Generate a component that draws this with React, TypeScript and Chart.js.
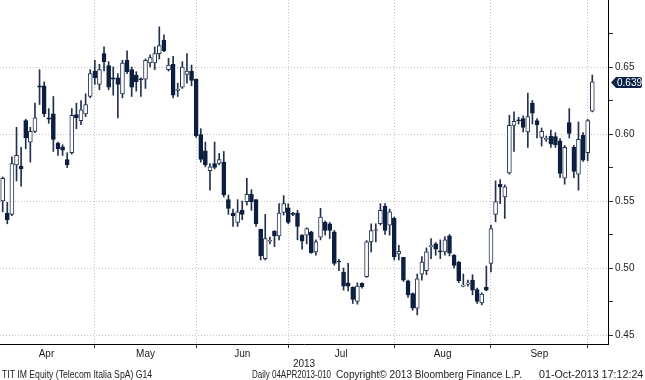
import React, { useEffect, useLayoutEffect, useRef } from 'react';
import { Chart, registerables } from 'chart.js';

Chart.register(...registerables);

// Trading-day index (0 = first plotted session, early April 2013)
const dayIndex: number[] = Array.from({ length: 129 }, (_, i) => i);

const openPrices: number[] = [
  0.550, 0.541, 0.540, 0.577, 0.576, 0.610, 0.594, 0.602, 0.636, 0.636,
  0.612, 0.615, 0.593, 0.5905, 0.581, 0.586, 0.6145, 0.610, 0.615, 0.628,
  0.647, 0.637, 0.660, 0.651, 0.642, 0.642, 0.630, 0.655, 0.648, 0.644,
  0.641, 0.641, 0.653, 0.653, 0.660, 0.670, 0.648, 0.652, 0.6325, 0.635,
  0.6445, 0.647, 0.641, 0.5995, 0.5875, 0.5726, 0.578, 0.578, 0.579, 0.551,
  0.541, 0.534, 0.543, 0.5495, 0.555, 0.551, 0.529, 0.507, 0.520, 0.5276,
  0.524, 0.5415, 0.545, 0.5405, 0.541, 0.5245, 0.5245, 0.527, 0.512, 0.523,
  0.534, 0.533, 0.527, 0.505, 0.497, 0.489, 0.4855, 0.475, 0.4885, 0.4935,
  0.5195, 0.528, 0.533, 0.546, 0.532, 0.537, 0.5105, 0.508, 0.4905, 0.481,
  0.470, 0.4955, 0.498, 0.516, 0.518, 0.5125, 0.512, 0.524, 0.5095, 0.5045,
  0.4865, 0.488, 0.491, 0.484, 0.474, 0.4855, 0.5035, 0.540, 0.5625, 0.553,
  0.571, 0.6065, 0.610, 0.6115, 0.6015, 0.623, 0.610, 0.5975, 0.596, 0.5985,
  0.598, 0.595, 0.567, 0.6085, 0.590, 0.570, 0.599, 0.586, 0.617,
];

const highPrices: number[] = [
  0.568, 0.549, 0.583, 0.605, 0.590, 0.611, 0.605, 0.623, 0.648, 0.639,
  0.619, 0.628, 0.594, 0.592, 0.586, 0.619, 0.623, 0.625, 0.630, 0.648,
  0.655, 0.652, 0.665, 0.654, 0.650, 0.645, 0.655, 0.662, 0.650, 0.6465,
  0.642, 0.656, 0.659, 0.665, 0.680, 0.674, 0.6565, 0.658, 0.638, 0.654,
  0.660, 0.6515, 0.641, 0.604, 0.594, 0.578, 0.594, 0.5855, 0.587, 0.5545,
  0.544, 0.551, 0.550, 0.567, 0.5585, 0.551, 0.529, 0.540, 0.523, 0.528,
  0.548, 0.554, 0.548, 0.5415, 0.543, 0.525, 0.530, 0.5275, 0.521, 0.5445,
  0.535, 0.534, 0.528, 0.5065, 0.500, 0.5035, 0.486, 0.489, 0.489, 0.5205,
  0.533, 0.533, 0.548, 0.548, 0.544, 0.538, 0.517, 0.508, 0.491, 0.4815,
  0.4955, 0.5085, 0.515, 0.522, 0.519, 0.521, 0.5235, 0.525, 0.510, 0.505,
  0.4955, 0.491, 0.495, 0.485, 0.4815, 0.5015, 0.532, 0.565, 0.566, 0.562,
  0.614, 0.6165, 0.6125, 0.6135, 0.6305, 0.625, 0.6115, 0.6045, 0.5985, 0.603,
  0.601, 0.5965, 0.5915, 0.619, 0.5915, 0.609, 0.601, 0.611, 0.644,
];

const lowPrices: number[] = [
  0.542, 0.533, 0.539, 0.565, 0.561, 0.589, 0.579, 0.601, 0.622, 0.613,
  0.608, 0.587, 0.584, 0.584, 0.575, 0.585, 0.604, 0.607, 0.613, 0.627,
  0.637, 0.633, 0.647, 0.633, 0.629, 0.612, 0.627, 0.645, 0.628, 0.632,
  0.628, 0.634, 0.650, 0.648, 0.656, 0.6615, 0.647, 0.627, 0.628, 0.634,
  0.638, 0.636, 0.5975, 0.579, 0.5755, 0.558, 0.574, 0.577, 0.553, 0.540,
  0.531, 0.531, 0.536, 0.547, 0.543, 0.531, 0.506, 0.506, 0.518, 0.516,
  0.521, 0.5395, 0.533, 0.539, 0.521, 0.514, 0.518, 0.511, 0.5095, 0.521,
  0.5245, 0.522, 0.502, 0.498, 0.4835, 0.483, 0.4735, 0.473, 0.485, 0.493,
  0.512, 0.5195, 0.532, 0.525, 0.5245, 0.506, 0.506, 0.490, 0.478, 0.4685,
  0.465, 0.491, 0.495, 0.507, 0.5095, 0.507, 0.5095, 0.509, 0.500, 0.489,
  0.486, 0.4865, 0.480, 0.4735, 0.4725, 0.483, 0.497, 0.5345, 0.548, 0.537,
  0.570, 0.587, 0.6075, 0.6015, 0.590, 0.6075, 0.597, 0.591, 0.5945, 0.590,
  0.590, 0.5675, 0.5625, 0.597, 0.5675, 0.558, 0.5795, 0.580, 0.6165,
];

const closePrices: number[] = [
  0.567, 0.536, 0.578, 0.584, 0.574, 0.597, 0.602, 0.612, 0.635, 0.615,
  0.611, 0.596, 0.589, 0.588, 0.577, 0.614, 0.612, 0.618, 0.622, 0.645,
  0.642, 0.648, 0.654, 0.635, 0.641, 0.637, 0.653, 0.6465, 0.635, 0.639,
  0.6405, 0.655, 0.657, 0.660, 0.666, 0.662, 0.6515, 0.629, 0.6335, 0.650,
  0.647, 0.640, 0.5985, 0.581, 0.577, 0.5756, 0.575, 0.581, 0.5545, 0.5445,
  0.539, 0.542, 0.540, 0.555, 0.5495, 0.533, 0.509, 0.522, 0.5205, 0.524,
  0.541, 0.548, 0.534, 0.540, 0.531, 0.520, 0.5295, 0.5115, 0.5195, 0.538,
  0.528, 0.528, 0.5035, 0.5045, 0.4865, 0.4865, 0.4765, 0.4865, 0.486, 0.5195,
  0.528, 0.5285, 0.543, 0.528, 0.542, 0.5085, 0.5125, 0.491, 0.480, 0.470,
  0.492, 0.5045, 0.512, 0.5165, 0.514, 0.512, 0.521, 0.511, 0.502, 0.4905,
  0.487, 0.4882, 0.4835, 0.475, 0.4805, 0.4835, 0.5295, 0.5495, 0.5605, 0.5605,
  0.6065, 0.6095, 0.6098, 0.605, 0.613, 0.6155, 0.607, 0.602, 0.5962, 0.5925,
  0.592, 0.5705, 0.590, 0.6005, 0.572, 0.596, 0.5805, 0.610, 0.639,
];

const monthLabels: string[] = ['Apr', 'May', 'Jun', 'Jul', 'Aug', 'Sep'];
// index of first trading day of Apr, May, Jun, Jul, Aug, Sep, Oct
const monthFirstDay: number[] = [-1, 20, 42, 62, 85, 106, 127];
const yearLabel = '2013';
const yTickValues: number[] = [0.45, 0.475, 0.5, 0.525, 0.55, 0.575, 0.6, 0.625, 0.65, 0.675];
const lastPrice = 0.639;

const footerItems = [
  { text: 'TIT IM Equity (Telecom Italia SpA) G14', left: 2, width: 150 },
  { text: 'Daily 04APR2013-010', left: 252, width: 79 },
  { text: 'Copyright\u00A9 2013 Bloomberg Finance L.P.', left: 336, width: 186 },
  { text: '01-Oct-2013 17:12:24', left: 539, width: 104 },
];

const NAVY = '#0c1f40';
const WICK = '#22324e';
const GRID = '#c4c4c4';
const FONT = '"Liberation Sans", Arial, sans-serif';

const isMajorY = (v: number) => Math.abs(v * 20 - Math.round(v * 20)) < 1e-6;

export default function App() {
  const canvasRef = useRef<HTMLCanvasElement | null>(null);
  const footerRefs = useRef<(HTMLSpanElement | null)[]>([]);

  useLayoutEffect(() => {
    document.body.style.margin = '0';
    footerRefs.current.forEach((el, i) => {
      if (!el) return;
      const w = el.offsetWidth;
      if (w > 0) el.style.transform = `scaleX(${footerItems[i].width / w})`;
    });
  }, []);

  useEffect(() => {
    const canvas = canvasRef.current;
    if (!canvas) return;

    const monthMid = monthLabels.map((_, i) => (monthFirstDay[i] + monthFirstDay[i + 1]) / 2);
    const boundaries = monthFirstDay.slice(1, 7);
    const isBoundary = (v: number) => boundaries.some((b) => Math.abs(b - v) < 1e-6);
    const xTicks = [...boundaries, ...monthMid].sort((a, b) => a - b);

    const up = dayIndex.map((i) => closePrices[i] >= openPrices[i]);

    const priceTag = {
      id: 'priceTag',
      afterDraw(chart: any) {
        const { ctx, chartArea, scales } = chart;
        const y = Math.round(scales.y.getPixelForValue(lastPrice)) + 0.5;
        const x0 = chartArea.right + 3;
        const x1 = 642;
        const h = 5.5;
        ctx.save();
        ctx.fillStyle = '#0e2246';
        ctx.beginPath();
        ctx.moveTo(x0, y);
        ctx.lineTo(x0 + 5, y - h);
        ctx.lineTo(x1 - 2, y - h);
        ctx.quadraticCurveTo(x1, y - h, x1, y - h + 2);
        ctx.lineTo(x1, y + h - 2);
        ctx.quadraticCurveTo(x1, y + h, x1 - 2, y + h);
        ctx.lineTo(x0 + 5, y + h);
        ctx.closePath();
        ctx.fill();
        ctx.fillStyle = '#ffffff';
        ctx.font = `10px ${FONT}`;
        ctx.textBaseline = 'middle';
        ctx.textAlign = 'left';
        ctx.fillText(lastPrice.toFixed(3), x0 + 6, y + 0.5);
        ctx.restore();
      },
    };

    const chart = new Chart(canvas, {
      type: 'bar',
      data: {
        datasets: [
          {
            label: 'body',
            data: dayIndex.map((i) => ({ x: i, y: [openPrices[i], closePrices[i]] })) as any,
            backgroundColor: dayIndex.map((i) => (up[i] ? '#ffffff' : NAVY)),
            borderColor: dayIndex.map((i) => (up[i] ? '#24344f' : NAVY)),
            borderWidth: 1,
            borderSkipped: false,
            barThickness: 4,
            minBarLength: 1,
            grouped: false,
            order: 0,
          } as any,
          {
            label: 'wick',
            data: dayIndex.map((i) => ({ x: i, y: [lowPrices[i], highPrices[i]] })) as any,
            backgroundColor: WICK,
            borderWidth: 0,
            barThickness: 1,
            grouped: false,
            order: 1,
          } as any,
        ],
      },
      options: {
        animation: false,
        responsive: false,
        devicePixelRatio: 1,
        layout: { padding: { left: 0, right: 0, top: 0, bottom: 9 } },
        plugins: {
          legend: { display: false },
          tooltip: { enabled: false },
        },
        scales: {
          x: {
            type: 'linear',
            position: 'bottom',
            min: -0.586,
            max: 131.41,
            offset: false,
            afterBuildTicks: (s: any) => {
              s.ticks = xTicks.map((v) => ({ value: v }));
            },
            afterFit: (s: any) => {
              s.height = 27;
              s.paddingLeft = 0;
              s.paddingRight = 0;
            },
            ticks: {
              autoSkip: false,
              maxRotation: 0,
              minRotation: 0,
              padding: 0,
              color: '#1a1a1a',
              font: { family: FONT, size: 10 },
              callback: (_v: any, idx: number) => {
                const v = xTicks[idx];
                const m = monthMid.findIndex((mm) => Math.abs(mm - v) < 1e-6);
                return m >= 0 ? monthLabels[m] : '';
              },
            },
            grid: {
              offset: false,
              color: (c: any) => (c.tick && isBoundary(c.tick.value) ? GRID : 'rgba(0,0,0,0)'),
              tickColor: (c: any) => (c.tick && isBoundary(c.tick.value) ? '#333' : 'rgba(0,0,0,0)'),
              tickLength: 4,
              lineWidth: 1,
            },
            border: { display: true, color: '#000', width: 1, dash: [1, 2] },
            title: {
              display: true,
              text: yearLabel,
              color: '#1a1a1a',
              font: { family: FONT, size: 10 },
              padding: { top: 0, bottom: 1 },
            },
          } as any,
          y: {
            type: 'linear',
            position: 'right',
            min: 0.4433,
            max: 0.70,
            afterBuildTicks: (s: any) => {
              s.ticks = yTickValues.map((v) => ({ value: v }));
            },
            afterFit: (s: any) => {
              s.width = 37;
              s.paddingTop = 0;
              s.paddingBottom = 0;
            },
            ticks: {
              autoSkip: false,
              padding: 2,
              color: '#1a1a1a',
              font: { family: FONT, size: 10 },
              callback: (v: any) => (isMajorY(Number(v)) ? Number(v).toFixed(2) : ''),
            },
            grid: {
              color: (c: any) => (c.tick && isMajorY(c.tick.value) ? GRID : 'rgba(0,0,0,0)'),
              tickColor: '#333',
              tickLength: 5,
              lineWidth: 1,
            },
            border: { display: true, color: '#000', width: 1, dash: [1, 2] },
          } as any,
        },
      },
      plugins: [priceTag],
    });

    return () => chart.destroy();
  }, []);

  return (
    <div style={{ position: 'relative', width: 645, height: 380, background: '#fff', overflow: 'hidden' }}>
      <canvas ref={canvasRef} width={645} height={380} style={{ position: 'absolute', left: 0, top: 0 }} />
      {footerItems.map((f, i) => (
        <span
          key={i}
          ref={(el) => {
            footerRefs.current[i] = el;
          }}
          style={{
            position: 'absolute',
            left: f.left,
            top: 369,
            fontFamily: FONT,
            fontSize: 10,
            lineHeight: '11px',
            color: '#222',
            whiteSpace: 'nowrap',
            transformOrigin: 'left top',
          }}
        >
          {f.text}
        </span>
      ))}
    </div>
  );
}
